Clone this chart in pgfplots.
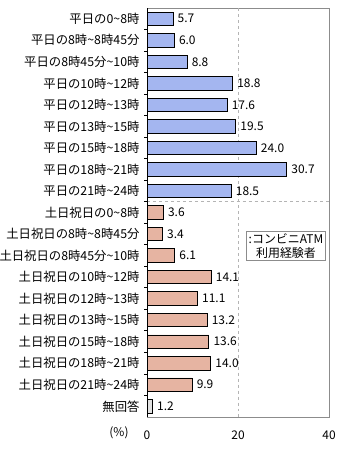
\documentclass[border=0pt]{standalone}
\usepackage{pgfplots}
\pgfplotsset{compat=1.18}
\usepackage{fontspec}
\setmainfont{Noto Sans CJK JP}
\definecolor{bluee}{HTML}{A4B6F0}
\definecolor{bluem}{HTML}{DDE5FD}
\definecolor{pinke}{HTML}{E6B4A2}
\definecolor{pinkm}{HTML}{FAE4DA}
\definecolor{grayb}{HTML}{E2E2E2}
\definecolor{framegray}{HTML}{8C8C8C}
\definecolor{dashgray}{HTML}{B4B4B4}
\newcommand{\tl}{\textasciitilde}
\begin{document}
\begin{tikzpicture}[x=1bp,y=1bp]
\path[use as bounding box] (0,0) rectangle (340,450);
\begin{axis}[
  at={(147bp,33bp)}, anchor=south west,
  scale only axis, width=182bp, height=409bp,
  xmin=0, xmax=40, ymin=0.5, ymax=19.5, y dir=reverse,
  xtick={0,20,40}, ytick={1,...,19},
  minor ytick={1.5,2.5,...,18.5},
  major tick length=0pt, minor tick length=3bp,
  tick align=inside, ytick pos=left, xtick pos=bottom,
  tick style={black, line width=0.8pt},
  axis line style={framegray, line width=0.8pt},
  /pgf/number format/assume math mode=true,
  font=\fontsize{12}{14}\selectfont,
  xticklabel style={yshift=-10bp, font=\fontsize{12}{14}\selectfont},
  yticklabel style={xshift=-4bp, font=\fontsize{12.4}{14}\selectfont},
  yticklabels={
    平日の0\tl 8時,
    平日の8時\tl 8時45分,
    平日の8時45分\tl 10時,
    平日の10時\tl 12時,
    平日の12時\tl 13時,
    平日の13時\tl 15時,
    平日の15時\tl 18時,
    平日の18時\tl 21時,
    平日の21時\tl 24時,
    土日祝日の0\tl 8時,
    土日祝日の8時\tl 8時45分,
    土日祝日の8時45分\tl 10時,
    土日祝日の10時\tl 12時,
    土日祝日の12時\tl 13時,
    土日祝日の13時\tl 15時,
    土日祝日の15時\tl 18時,
    土日祝日の18時\tl 21時,
    土日祝日の21時\tl 24時,
    無回答},
  xbar, bar width=13.5bp, bar shift=0pt,
  nodes near coords,
  nodes near coords style={anchor=west, xshift=1bp, font=\fontsize{12}{14}\selectfont,
    /pgf/number format/.cd, fixed, fixed zerofill, precision=1, assume math mode=true},
  clip=false,
]
\draw[dashgray, dashed, line width=0.7pt] (axis cs:20,0.5) -- (axis cs:20,19.5);
\draw[dashgray, dashed, line width=0.7pt] (axis cs:0,9.5) -- (axis cs:40,9.5);
\addplot[draw=black, line width=0.8pt, top color=bluee, middle color=bluem, bottom color=bluee]
  coordinates {(5.7,1) (6.0,2) (8.8,3) (18.8,4) (17.6,5) (19.5,6) (24.0,7) (30.7,8) (18.5,9)};
\addplot[draw=black, line width=0.8pt, top color=pinke, middle color=pinkm, bottom color=pinke]
  coordinates {(3.6,10) (3.4,11) (6.1,12) (14.1,13) (11.1,14) (13.2,15) (13.6,16) (14.0,17) (9.9,18)};
\addplot[draw=black, line width=0.8pt, fill=grayb]
  coordinates {(1.2,19)};
\draw[black, line width=0.9pt] (rel axis cs:0,0) -- (rel axis cs:0,1);
\end{axis}
\node[draw=framegray, line width=0.7pt, fill=white, align=center, inner sep=2bp,
  font=\fontsize{12}{14}\selectfont] at (286,204) {:コンビニATM\\利用経験者};
\node[font=\fontsize{12}{14}\selectfont] at (119,17) {(\%)};
\end{tikzpicture}
\end{document}
